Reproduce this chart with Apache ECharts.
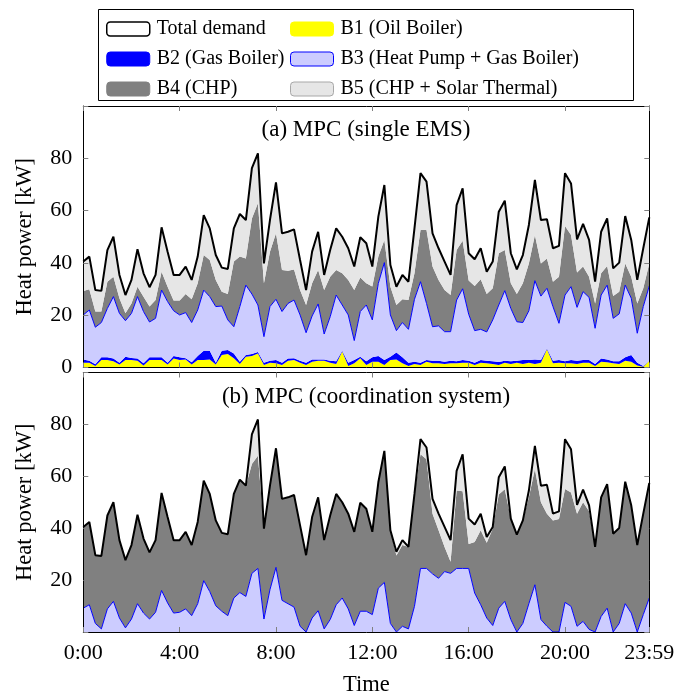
<!DOCTYPE html>
<html><head><meta charset="utf-8">
<script src="https://cdn.jsdelivr.net/npm/echarts@6/dist/echarts.min.js"></script>
<style>html,body{margin:0;padding:0;background:#fff}#c{width:678px;height:698px}</style>
</head><body><div id="c"></div>
<script>
// x positions are 15-minute step indices; tick labels
const xTickIndex = [0, 16, 32, 48, 64, 80, 94];
const xTickLabels = ['0:00', '4:00', '8:00', '12:00', '16:00', '20:00', '23:59'];
const yTicks = [0, 20, 40, 60, 80];

const totalDemand = [40.5,42.4,29.6,29.3,44.9,50.0,35.4,27.7,33.5,45.2,
 36.0,30.7,35.4,53.6,44.3,35.4,35.4,38.6,33.5,42.4,
 58.3,53.2,43.0,38.2,37.7,53.2,58.7,56.4,76.2,81.9,
 39.8,56.4,70.8,51.3,51.9,52.8,41.1,29.6,44.3,51.9,
 35.4,44.9,53.2,50.0,45.6,38.6,49.8,47.5,38.6,57.7,
 69.8,39.2,30.9,35.4,32.8,53.2,74.3,71.1,51.3,45.6,
 40.5,35.4,62.1,68.5,43.7,41.4,45.6,36.6,40.5,59.6,
 63.8,43.7,37.5,43.0,54.5,71.7,56.4,56.7,45.6,46.5,
 74.3,70.4,49.0,54.9,48.8,32.8,51.9,57.0,37.9,40.1,
 57.9,48.8,33.5,45.6,57.4];

// (a) single EMS
const b1Single = [1.8,1.8,0.6,2.9,2.9,2.4,1.1,2.9,2.9,2.6,
 0.8,2.9,2.9,2.9,1.1,3.4,2.9,3.1,1.1,2.9,
 2.9,3.1,1.1,4.8,5.2,3.5,1.3,4.1,4.4,5.4,
 1.0,1.8,1.6,1.0,2.6,2.9,1.8,1.0,2.2,2.6,
 2.6,1.8,1.3,6.1,0.6,1.6,3.5,1.0,2.2,2.2,
 1.0,2.9,3.1,1.6,0.6,1.3,1.0,2.2,1.6,1.6,
 1.3,1.6,1.6,1.8,1.8,1.0,1.8,1.6,1.3,1.0,
 1.8,1.3,1.8,1.3,1.8,1.3,1.8,7.0,1.6,1.8,
 1.6,1.6,1.3,1.8,1.8,0.6,2.2,2.0,1.6,1.3,
 2.6,2.2,0.8,0.3,2.6];
const b2Single = [1.3,0.8,0.6,1.0,1.0,1.0,0.7,1.2,0.7,0.8,
 0.8,1.0,1.0,1.0,0.7,1.0,1.0,0.4,0.9,1.5,
 3.5,3.3,0.7,1.6,1.5,1.9,0.9,0.7,0.8,0.5,
 0.8,0.8,1.3,0.8,0.8,0.6,0.8,0.8,0.9,0.5,
 0.5,0.8,1.1,0.3,1.2,1.3,0.6,1.4,1.7,2.2,
 1.9,1.2,2.6,2.3,1.2,0.9,0.8,0.7,1.0,1.0,
 0.9,1.0,0.8,1.1,0.8,0.8,1.1,1.0,1.1,1.1,
 0.8,1.1,0.8,1.6,1.1,1.8,1.1,0.3,1.0,1.1,
 0.8,1.3,1.3,1.1,1.1,0.7,1.2,1.1,0.8,1.1,
 1.3,2.6,1.0,0.3,0.0];
const b3Single = [17.0,19.4,14.2,13.3,18.7,23.7,18.9,13.8,17.1,23.7,
 19.8,13.5,14.9,25.7,23.4,17.3,16.2,17.5,15.2,17.6,
 23.2,20.7,21.5,17.1,11.5,10.2,21.1,26.7,22.9,18.0,
 10.0,20.7,23.2,19.6,21.1,22.3,17.5,11.5,16.6,21.2,
 9.7,16.8,25.3,17.5,18.3,7.4,17.3,21.5,14.3,27.8,
 37.2,16.0,8.4,13.3,12.8,23.9,31.0,21.6,13.0,13.3,
 11.5,11.1,23.4,27.2,17.8,12.3,11.7,11.0,15.8,21.8,
 26.8,20.2,14.9,14.3,18.8,30.1,24.4,23.0,20.7,14.0,
 25.3,28.0,20.4,26.1,23.9,13.7,24.3,28.4,16.4,18.1,
 27.6,21.7,11.3,22.7,28.6];
const b4Single = [9.2,7.9,6.0,4.2,10.2,7.6,5.8,2.8,3.8,3.8,
 5.7,5.9,7.0,7.0,5.7,3.9,5.5,7.1,8.9,10.2,
 13.4,14.0,10.2,5.5,9.9,24.9,19.1,10.2,28.9,38.9,
 20.4,21.0,25.2,15.9,12.5,11.7,9.5,10.6,12.5,13.0,
 16.8,15.3,9.6,12.1,13.4,19.3,13.0,8.3,12.8,10.2,
 8.7,10.8,9.8,8.9,11.2,9.9,19.8,28.1,23.0,17.6,
 15.9,14.0,19.1,18.4,12.9,17.1,19.1,14.5,12.1,19.8,
 15.5,9.6,10.6,15.0,18.1,17.5,12.5,11.4,9.5,17.8,
 26.4,19.8,13.3,9.6,7.9,9.5,8.3,7.3,8.5,8.5,
 8.3,8.2,11.4,7.0,8.6];
const b5Single = [11.2,12.5,8.2,7.9,12.1,15.3,8.9,7.0,9.0,14.3,
 8.9,7.4,9.6,17.0,13.4,9.8,9.8,10.5,7.4,10.2,
 15.3,12.1,9.5,9.2,9.6,12.7,16.3,14.7,19.2,19.1,
 7.6,12.1,19.5,14.0,14.9,15.3,11.5,5.7,12.1,14.6,
 5.8,10.2,15.9,14.0,12.1,9.0,15.4,15.3,7.6,15.3,
 21.0,8.3,7.0,9.3,7.0,17.2,21.7,18.5,12.7,12.1,
 10.9,7.7,17.2,20.0,10.4,10.2,11.9,8.5,10.2,15.9,
 18.9,11.5,9.4,10.8,14.7,21.0,16.6,15.0,12.8,11.8,
 20.2,19.7,12.7,16.3,14.1,8.3,15.9,18.2,10.6,11.1,
 18.1,14.1,9.0,15.3,17.6];

// (b) coordination system
const b3Coord = [9.2,10.5,3.3,1.2,8.9,11.8,5.4,1.6,5.0,10.9,
 7.3,5.0,7.6,16.0,11.2,7.3,7.6,8.9,6.3,10.9,
 19.8,15.6,10.1,8.0,6.3,13.1,15.2,13.7,22.6,24.5,
 5.0,16.3,24.9,12.2,10.9,9.6,2.2,0,5.4,8.2,
 1.2,4.8,10.5,13.1,8.9,2.5,8.0,8.0,6.7,16.9,
 19.1,3.3,0,2.2,1.2,9.9,24.5,24.5,22.4,20.7,
 23.3,22.6,24.5,24.5,24.5,15.0,10.5,5.4,2.5,9.2,
 11.8,4.8,0,3.3,10.9,18.2,4.8,2.2,0,0,
 11.4,9.9,2.2,4.1,1.0,0,6.0,9.2,0,3.3,
 10.9,7.3,0,6.7,13.1];
const b4Coord = [31.3,31.9,26.3,28.1,36.0,38.2,30.0,26.1,28.5,34.3,
 28.7,25.7,27.8,37.6,33.1,28.1,27.8,29.7,27.2,31.5,
 38.5,37.6,32.9,30.2,31.4,40.1,43.5,42.7,42.1,43.4,
 34.8,40.1,45.9,39.1,41.0,43.2,38.9,29.6,38.9,43.7,
 34.2,40.1,42.7,36.9,36.7,36.1,41.8,39.5,31.9,40.8,
 50.7,35.9,29.5,31.3,31.6,43.3,44.0,42.1,23.2,18.5,
 9.5,4.5,30.0,29.7,9.4,19.7,28.7,29.0,37.3,43.8,
 43.2,38.9,37.5,39.7,41.0,44.6,45.2,43.4,43.0,43.5,
 43.7,43.9,43.4,45.9,45.5,32.8,45.9,47.8,37.9,36.8,
 47.0,41.5,33.5,38.9,44.3];
const b5Coord = [0,0,0,0,0,0,0,0,0,0,
 0,0,0,0,0,0,0,0,0,0,
 0,0,0,0,0,0,0,0,11.5,14.0,
 0,0,0,0,0,0,0,0,0,0,
 0,0,0,0,0,0,0,0,0,0,
 0,0,1.4,1.9,0,0,5.8,4.5,5.7,6.4,
 7.7,8.3,7.6,14.3,9.8,6.7,6.4,2.2,0.7,6.6,
 8.8,0,0,0,2.6,8.9,6.4,11.1,2.6,3.0,
 19.2,16.6,3.4,4.9,2.3,0,0,0,0,0,
 0,0,0,0,0];

// category slots (15-minute steps)
const timeSlots = totalDemand.map((_, i) => String(i));

const names = {
  total: 'Total demand',
  b1: 'B1 (Oil Boiler)',
  b2: 'B2 (Gas Boiler)',
  b3: 'B3 (Heat Pump + Gas Boiler)',
  b4: 'B4 (CHP)',
  b5: 'B5 (CHP + Solar Thermal)'
};
const colors = { b1: '#ffff00', b2: '#0000ff', b3: '#ccccff', b4: '#808080', b5: '#e6e6e6' };

const FONT = 'Liberation Serif';
const FS_LEG = 20;
const FS_TICK = 22;
const FS_NAME = 22.5;
const FS_TITLE = 23;

const isTick = idx => xTickIndex.indexOf(idx) >= 0;

function xAxisDef(grid, pos, showLabels) {
  return {
    type: 'category', gridIndex: grid, position: pos, data: timeSlots, boundaryGap: false, z: 5,
    axisLine: { show: true, onZero: false, lineStyle: { color: '#000', width: 1 } },
    axisTick: { show: true, inside: true, length: 5, interval: (i) => isTick(i), lineStyle: { color: '#808080', width: 1 } },
    axisLabel: {
      show: showLabels, margin: 10, color: '#000', fontFamily: FONT, fontSize: FS_TICK,
      interval: (i) => isTick(i),
      formatter: (v, i) => { const k = xTickIndex.indexOf(i); return k >= 0 ? xTickLabels[k] : ''; }
    },
    splitLine: { show: false }
  };
}
function yAxisDef(grid, pos, showLabels, showZero) {
  return {
    type: 'value', gridIndex: grid, position: pos, min: 0, max: 100, interval: 20, z: 5,
    axisLine: { show: true, onZero: false, lineStyle: { color: '#000', width: 1 } },
    axisTick: { show: true, inside: true, length: 5, lineStyle: { color: '#808080', width: 1 } },
    axisLabel: {
      show: showLabels, margin: 11, color: '#000', fontFamily: FONT, fontSize: FS_TICK,
      formatter: v => (yTicks.indexOf(v) >= 0 && (showZero || v !== 0)) ? String(v) : ''
    },
    splitLine: { show: false }
  };
}

function area(name, data, color, xi, yi, stack, extra) {
  return Object.assign({
    type: 'line', name: name, data: data, xAxisIndex: xi, yAxisIndex: yi, stack: stack,
    symbol: 'none', showSymbol: false, color: color, z: 2,
    lineStyle: { width: 0, color: color },
    areaStyle: { color: color, opacity: 1 },
    emphasis: { disabled: true }, silent: true
  }, extra || {});
}

const series = [
  area(names.b1, b1Single, colors.b1, 0, 0, 'a'),
  area(names.b2, b2Single, colors.b2, 0, 0, 'a'),
  area(names.b3, b3Single, colors.b3, 0, 0, 'a', { z: 3, lineStyle: { width: 1, color: '#0000ff' } }),
  area(names.b4, b4Single, colors.b4, 0, 0, 'a'),
  area(names.b5, b5Single, colors.b5, 0, 0, 'a'),
  { type: 'line', name: names.total, data: totalDemand, xAxisIndex: 0, yAxisIndex: 0,
    symbol: 'none', color: '#000', z: 4, lineStyle: { width: 2, color: '#000' }, emphasis: { disabled: true }, silent: true },

  area(names.b3, b3Coord, colors.b3, 2, 2, 'b', { z: 3, lineStyle: { width: 1, color: '#0000ff' } }),
  area(names.b4, b4Coord, colors.b4, 2, 2, 'b'),
  area(names.b5, b5Coord, colors.b5, 2, 2, 'b'),
  { type: 'line', name: names.total, data: totalDemand, xAxisIndex: 2, yAxisIndex: 2,
    symbol: 'none', color: '#000', z: 4, lineStyle: { width: 2, color: '#000' }, emphasis: { disabled: true }, silent: true }
];

const legendBase = {
  orient: 'vertical', top: 19, padding: 0, itemWidth: 43, itemHeight: 14, itemGap: 10,
  icon: 'roundRect', selectedMode: false,
  textStyle: { fontFamily: FONT, fontSize: FS_LEG, color: '#000', padding: [0, 0, 0, 2] }
};

const option = {
  backgroundColor: '#fff',
  animation: false,
  title: [
    { text: '(a) MPC (single EMS)', left: 366, top: 118, textAlign: 'center', padding: 0,
      textStyle: { fontFamily: FONT, fontSize: FS_TITLE, fontWeight: 'normal', color: '#000' } },
    { text: '(b) MPC (coordination system)', left: 366, top: 385, textAlign: 'center', padding: 0,
      textStyle: { fontFamily: FONT, fontSize: FS_TITLE, fontWeight: 'normal', color: '#000' } }
  ],
  legend: [
    Object.assign({}, legendBase, { left: 106, data: [
      { name: names.total, itemStyle: { color: '#ffffff', borderColor: '#000', borderWidth: 1.5 } },
      { name: names.b2, itemStyle: { color: colors.b2, borderColor: colors.b2, borderWidth: 1 } },
      { name: names.b4, itemStyle: { color: colors.b4, borderColor: colors.b4, borderWidth: 1 } }
    ] }),
    Object.assign({}, legendBase, { left: 290, data: [
      { name: names.b1, itemStyle: { color: colors.b1, borderColor: colors.b1, borderWidth: 1 } },
      { name: names.b3, itemStyle: { color: colors.b3, borderColor: '#0000ff', borderWidth: 1 } },
      { name: names.b5, itemStyle: { color: colors.b5, borderColor: '#a8a8a8', borderWidth: 1 } }
    ] })
  ],
  graphic: [
    { type: 'rect', shape: { x: 98.5, y: 9.5, width: 535, height: 91 }, z: 0,
      style: { fill: 'none', stroke: '#000', lineWidth: 1 } }
  ],
  grid: [
    { left: 83.3, top: 106, width: 566, height: 261.5 },
    { left: 83.3, top: 372.5, width: 566, height: 260 }
  ],
  xAxis: [
    xAxisDef(0, 'bottom', false),
    xAxisDef(0, 'top', false),
    Object.assign(xAxisDef(1, 'bottom', true), { name: 'Time', nameLocation: 'middle', nameGap: 42,
      nameTextStyle: { fontFamily: FONT, fontSize: FS_NAME, color: '#000' } }),
    xAxisDef(1, 'top', false)
  ],
  yAxis: [
    Object.assign(yAxisDef(0, 'left', true, true), { name: 'Heat power [kW]', nameLocation: 'middle', nameGap: 47,
      nameTextStyle: { fontFamily: FONT, fontSize: FS_NAME, color: '#000' } }),
    yAxisDef(0, 'right', false, true),
    Object.assign(yAxisDef(1, 'left', true, false), { name: 'Heat power [kW]', nameLocation: 'middle', nameGap: 47,
      nameTextStyle: { fontFamily: FONT, fontSize: FS_NAME, color: '#000' } }),
    yAxisDef(1, 'right', false, false)
  ],
  series: series
};

const chart = echarts.init(document.getElementById('c'), null, { renderer: 'canvas' });
chart.setOption(option);
</script>
</body></html>
